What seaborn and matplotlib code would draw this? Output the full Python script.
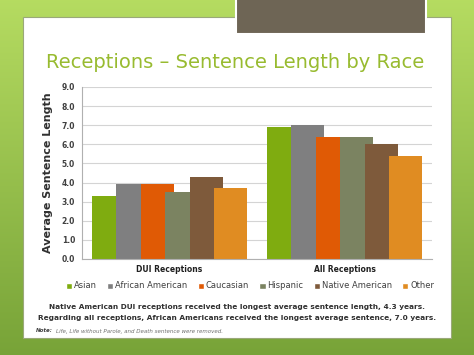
import matplotlib
matplotlib.use("Agg")
import matplotlib.pyplot as plt
import seaborn as sns
import numpy as np
import pandas as pd
from matplotlib.patches import Rectangle

# Chart data
groups = ["DUI Receptions", "All Receptions"]
races = ["Asian", "African American", "Caucasian", "Hispanic", "Native American", "Other"]
dui_values = [3.3, 3.9, 3.9, 3.5, 4.3, 3.7]
all_values = [6.9, 7.0, 6.4, 6.4, 6.0, 5.4]
colors = ["#7fac10", "#7f7f80", "#e05a05", "#7b8361", "#7e5a3b", "#e08c22"]
yticks = [0.0, 1.0, 2.0, 3.0, 4.0, 5.0, 6.0, 7.0, 8.0, 9.0]

df = pd.DataFrame({
    "group": [groups[0]] * len(races) + [groups[1]] * len(races),
    "race": races * 2,
    "value": dui_values + all_values,
})

sns.set_style("white")
plt.rcParams['font.family'] = ['DejaVu Sans']

fig = plt.figure(figsize=(4.74, 3.55), dpi=100)

# green gradient slide background
bg = fig.add_axes([0, 0, 1, 1], zorder=-10)
grad = np.linspace(0, 1, 256).reshape(-1, 1)
top = np.array([0.71, 0.86, 0.38])
bot = np.array([0.47, 0.64, 0.22])
img = top[None, None, :] * (1 - grad[:, :, None]) + bot[None, None, :] * grad[:, :, None]
bg.imshow(img, aspect="auto", extent=[0, 1, 0, 1])
bg.set_xlim(0, 1)
bg.set_ylim(0, 1)
bg.axis("off")

# white content panel
bg.add_patch(Rectangle((23 / 474, 1 - 338 / 355), (451 - 23) / 474, (338 - 17) / 355,
                       facecolor="white", edgecolor="#9aa87a", lw=0.8))
# dark title box at top
bg.add_patch(Rectangle((236 / 474, 1 - 34 / 355), (426 - 236) / 474, 40 / 355,
                       facecolor="#6e6555", edgecolor="white", lw=1.5))

fig.text(0.496, 1 - 62 / 355, "Receptions \u2013 Sentence Length by Race",
         ha="center", va="center", fontsize=14, color="#98bb30")

ax = fig.add_axes([82 / 474, 1 - 259 / 355, (432 - 82) / 474, (259 - 87) / 355])
sns.barplot(data=df, x="group", y="value", hue="race", order=groups, hue_order=races,
            palette=colors, width=0.84, saturation=1, ax=ax, legend=True)

# widen bars so they overlap like the original
for p in ax.patches:
    if p.get_height() > 0:
        p.set_x(p.get_x() - 0.025)
        p.set_width(0.19)
        p.set_edgecolor("none")

ax.set_xlim(-0.5, 1.5)
ax.set_ylim(0, 9)
ax.set_yticks(yticks)
ax.set_yticklabels([f"{t:.1f}" for t in yticks], fontsize=5.5, fontweight="bold", color="#404040")
ax.set_xticks([0, 1])
ax.set_xticklabels(groups, fontsize=5.5, fontweight="bold", color="#202020")
ax.set_xticks([-0.5, 0.5, 1.5], minor=True)
ax.tick_params(axis="x", which="major", length=0, pad=4)
ax.tick_params(axis="x", which="minor", length=3, color="#b0b0b0", direction="out")
ax.tick_params(axis="y", length=3, color="#b0b0b0", direction="out", pad=2)
ax.grid(axis="y", color="#d4d4d4", lw=0.8)
ax.set_axisbelow(True)
for s in ["top", "right"]:
    ax.spines[s].set_visible(False)
for s in ["left", "bottom"]:
    ax.spines[s].set_color("#b0b0b0")
    ax.spines[s].set_linewidth(0.8)
ax.set_xlabel("")
ax.set_ylabel("Average Sentence Length", fontsize=8, fontweight="bold", color="#303030", labelpad=6)

leg = ax.legend(loc="center", bbox_to_anchor=(250 / 474, 1 - 286 / 355), bbox_transform=fig.transFigure,
                ncol=6, frameon=False, fontsize=6, handlelength=0.75, handleheight=0.75,
                handletextpad=0.25, columnspacing=1.2)
for t in leg.get_texts():
    t.set_color("#404040")

fig.text(0.5, 1 - 307 / 355, "Native American DUI receptions received the longest average sentence length, 4.3 years.",
         ha="center", va="center", fontsize=5.3, fontweight="bold", color="#303030")
fig.text(0.5, 1 - 318 / 355, "Regarding all receptions, African Americans received the longest average sentence, 7.0 years.",
         ha="center", va="center", fontsize=5.3, fontweight="bold", color="#303030")
fig.text(36 / 474, 1 - 331 / 355, "Note:", ha="left", va="center", fontsize=4,
         fontweight="bold", style="italic", color="#404040")
fig.text(56 / 474, 1 - 331 / 355, "Life, Life without Parole, and Death sentence were removed.",
         ha="left", va="center", fontsize=4, style="italic", color="#707070")

fig.savefig("out.png", dpi=100)
